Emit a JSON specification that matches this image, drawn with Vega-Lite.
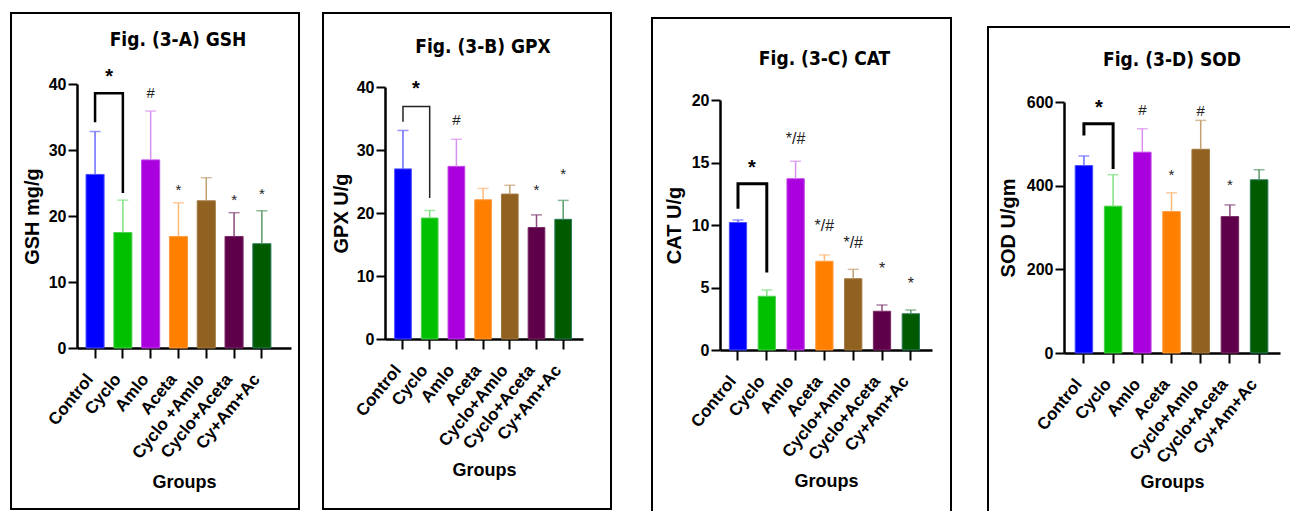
{
  "$schema": "https://vega.github.io/schema/vega-lite/v6.json",
  "padding": {"left": 10, "top": 12, "right": 0, "bottom": 0},
  "background": "white",
  "datasets": {
    "gsh": [
      {"group": "Control", "mean": 26.3, "err": 32.8},
      {"group": "Cyclo", "mean": 17.5, "err": 22.4},
      {"group": "Amlo", "mean": 28.5, "err": 35.9},
      {"group": "Aceta", "mean": 16.9, "err": 22.0},
      {"group": "Cyclo+Amlo", "mean": 22.3, "err": 25.8},
      {"group": "Cyclo+Aceta", "mean": 16.9, "err": 20.5},
      {"group": "Cy+Am+Ac", "mean": 15.8, "err": 20.8}
    ],
    "gpx": [
      {"group": "Control", "mean": 27.0, "err": 33.1},
      {"group": "Cyclo", "mean": 19.2, "err": 20.4},
      {"group": "Amlo", "mean": 27.4, "err": 31.7},
      {"group": "Aceta", "mean": 22.1, "err": 23.9},
      {"group": "Cyclo+Amlo", "mean": 23.0, "err": 24.4},
      {"group": "Cyclo+Aceta", "mean": 17.7, "err": 19.7},
      {"group": "Cy+Am+Ac", "mean": 19.0, "err": 22.0}
    ],
    "cat": [
      {"group": "Control", "mean": 10.2, "err": 10.4},
      {"group": "Cyclo", "mean": 4.3, "err": 4.8},
      {"group": "Amlo", "mean": 13.7, "err": 15.1},
      {"group": "Aceta", "mean": 7.1, "err": 7.6},
      {"group": "Cyclo+Amlo", "mean": 5.7, "err": 6.45},
      {"group": "Cyclo+Aceta", "mean": 3.1, "err": 3.6},
      {"group": "Cy+Am+Ac", "mean": 2.9, "err": 3.2}
    ],
    "sod": [
      {"group": "Control", "mean": 448, "err": 471},
      {"group": "Cyclo", "mean": 351, "err": 426},
      {"group": "Amlo", "mean": 480, "err": 536},
      {"group": "Aceta", "mean": 338, "err": 383},
      {"group": "Cyclo+Amlo", "mean": 487, "err": 556},
      {"group": "Cyclo+Aceta", "mean": 326, "err": 354},
      {"group": "Cy+Am+Ac", "mean": 414, "err": 438}
    ],
    "brkA": [
      {"group": "Control", "y": 34.2, "k": 1},
      {"group": "Control", "y": 38.6, "k": 2},
      {"group": "Cyclo", "y": 38.6, "k": 3},
      {"group": "Cyclo", "y": 23.5, "k": 4}
    ],
    "brkB": [
      {"group": "Control", "y": 34.5, "k": 1},
      {"group": "Control", "y": 36.9, "k": 2},
      {"group": "Cyclo", "y": 36.9, "k": 3},
      {"group": "Cyclo", "y": 22.4, "k": 4}
    ],
    "brkC": [
      {"group": "Control", "y": 11.3, "k": 1},
      {"group": "Control", "y": 13.3, "k": 2},
      {"group": "Cyclo", "y": 13.3, "k": 3},
      {"group": "Cyclo", "y": 6.2, "k": 4}
    ],
    "brkD": [
      {"group": "Control", "y": 520, "k": 1},
      {"group": "Control", "y": 548, "k": 2},
      {"group": "Cyclo", "y": 548, "k": 3},
      {"group": "Cyclo", "y": 440, "k": 4}
    ],
    "annA": [
      {"group": "Control", "y": 41.0, "label": "*", "kind": "bracket"},
      {"group": "Amlo", "y": 38.7, "label": "#", "kind": "bar"},
      {"group": "Aceta", "y": 24.0, "label": "*", "kind": "bar"},
      {"group": "Cyclo+Aceta", "y": 22.5, "label": "*", "kind": "bar"},
      {"group": "Cy+Am+Ac", "y": 23.3, "label": "*", "kind": "bar"}
    ],
    "annB": [
      {"group": "Control", "y": 39.7, "label": "*", "kind": "bracket"},
      {"group": "Amlo", "y": 34.7, "label": "#", "kind": "bar"},
      {"group": "Cyclo+Aceta", "y": 23.7, "label": "*", "kind": "bar"},
      {"group": "Cy+Am+Ac", "y": 26.2, "label": "*", "kind": "bar"}
    ],
    "annC": [
      {"group": "Control", "y": 14.6, "label": "*", "kind": "bracket"},
      {"group": "Amlo", "y": 16.9, "label": "*/#", "kind": "bar"},
      {"group": "Aceta", "y": 9.9, "label": "*/#", "kind": "bar"},
      {"group": "Cyclo+Amlo", "y": 8.6, "label": "*/#", "kind": "bar"},
      {"group": "Cyclo+Aceta", "y": 6.5, "label": "*", "kind": "bar"},
      {"group": "Cy+Am+Ac", "y": 5.3, "label": "*", "kind": "bar"}
    ],
    "annD": [
      {"group": "Control", "y": 586, "label": "*", "kind": "bracket"},
      {"group": "Amlo", "y": 582, "label": "#", "kind": "bar"},
      {"group": "Cyclo+Amlo", "y": 578, "label": "#", "kind": "bar"},
      {"group": "Aceta", "y": 426, "label": "*", "kind": "bar"},
      {"group": "Cyclo+Aceta", "y": 402, "label": "*", "kind": "bar"}
    ],
    "none": []
  },
  "spacing": 39,
  "hconcat": [
    {
      "spacing": 22,
      "hconcat": [
        {
          "width": 288, "height": 496,
          "title": {"text": "Fig. (3-A) GSH", "offset": -46, "dx": 23, "baseline": "middle"},
          "layer": [
            {"data": {"name": "gsh"}, "mark": {"type": "bar", "strokeWidth": 1},
             "encoding": {
               "x": {"field": "group", "type": "nominal", "sort": null,
                     "scale": {"domain": ["Control","Cyclo","Amlo","Aceta","Cyclo+Amlo","Cyclo+Aceta","Cy+Am+Ac"], "range": [66, 280], "paddingInner": 0.35, "paddingOuter": 0.524, "align": 0.31},
                     "axis": {"title": "Groups", "offset": -161, "titleY": 134, "titleBaseline": "middle", "labelExpr": "datum.value == 'Cyclo+Amlo' ? 'Cyclo +Amlo' : datum.value"}},
               "y": {"field": "mean", "type": "quantitative",
                     "scale": {"domain": [0, 40], "range": [335, 71], "nice": false},
                     "axis": {"title": "GSH mg/g", "offset": -66, "values": [0, 10, 20, 30, 40], "titleX": -45, "titleBaseline": "middle"}},
               "fill": {"field": "group", "type": "nominal", "scale": {"domain": ["Control","Cyclo","Amlo","Aceta","Cyclo+Amlo","Cyclo+Aceta","Cy+Am+Ac"], "range": ["#0000ff","#00c000","#aa00dd","#ff8000","#916121","#5e004a","#005a00"]}, "legend": null},
               "stroke": {"field": "group", "type": "nominal", "scale": {"domain": ["Control","Cyclo","Amlo","Aceta","Cyclo+Amlo","Cyclo+Aceta","Cy+Am+Ac"], "range": ["#4d4dff","#4dd04d","#c040e8","#ff9a40","#a07840","#7a2a66","#2a7a5a"]}, "legend": null}
             }},
            {"data": {"name": "gsh"}, "mark": {"type": "rule", "strokeWidth": 1.5},
             "encoding": {
               "x": {"field": "group", "type": "nominal"},
               "y": {"field": "mean", "type": "quantitative"}, "y2": {"field": "err"},
               "color": {"field": "group", "type": "nominal", "scale": {"domain": ["Control","Cyclo","Amlo","Aceta","Cyclo+Amlo","Cyclo+Aceta","Cy+Am+Ac"], "range": ["#6b6bff","#80e080","#d890f0","#ffb878","#c4a070","#8a4a7c","#5a9a6a"]}, "legend": null}
             }},
            {"data": {"name": "gsh"}, "mark": {"type": "tick", "thickness": 1.5, "size": 11},
             "encoding": {
               "x": {"field": "group", "type": "nominal"},
               "y": {"field": "err", "type": "quantitative"},
               "color": {"field": "group", "type": "nominal", "legend": null}
             }},
            {"data": {"name": "brkA"}, "mark": {"type": "line", "color": "black", "strokeWidth": 2.5},
             "encoding": {"x": {"field": "group", "type": "nominal"}, "y": {"field": "y", "type": "quantitative"}, "order": {"field": "k", "type": "quantitative"}}},
            {"data": {"name": "annA"}, "transform": [{"filter": "datum.kind == 'bracket'"}],
             "mark": {"type": "text", "fontSize": 20, "fontWeight": "bold", "dx": 14, "baseline": "middle", "color": "black"},
             "encoding": {"x": {"field": "group", "type": "nominal"}, "y": {"field": "y", "type": "quantitative"}, "text": {"field": "label"}}},
            {"data": {"name": "annA"}, "transform": [{"filter": "datum.kind == 'bar'"}],
             "mark": {"type": "text", "fontSize": 15, "baseline": "middle", "color": "#222"},
             "encoding": {"x": {"field": "group", "type": "nominal"}, "y": {"field": "y", "type": "quantitative"}, "text": {"field": "label"}}}
          ]
        },
        {
          "width": 288, "height": 496,
          "title": {"text": "Fig. (3-B) GPX", "offset": -53, "dx": 16, "baseline": "middle"},
          "layer": [
            {"data": {"name": "gpx"}, "mark": {"type": "bar", "strokeWidth": 1},
             "encoding": {
               "x": {"field": "group", "type": "nominal", "sort": null,
                     "scale": {"domain": ["Control","Cyclo","Amlo","Aceta","Cyclo+Amlo","Cyclo+Aceta","Cy+Am+Ac"], "range": [62, 260], "paddingInner": 0.375, "paddingOuter": 0.395, "align": 0.457},
                     "axis": {"title": "Groups", "offset": -170, "titleY": 131, "titleBaseline": "middle"}},
               "y": {"field": "mean", "type": "quantitative",
                     "scale": {"domain": [0, 40], "range": [326, 74], "nice": false},
                     "axis": {"title": "GPX U/g", "offset": -62, "values": [0, 10, 20, 30, 40], "titleX": -44, "titleBaseline": "middle"}},
               "fill": {"field": "group", "type": "nominal", "scale": {"domain": ["Control","Cyclo","Amlo","Aceta","Cyclo+Amlo","Cyclo+Aceta","Cy+Am+Ac"], "range": ["#0000ff","#00c000","#aa00dd","#ff8000","#916121","#5e004a","#005a00"]}, "legend": null},
               "stroke": {"field": "group", "type": "nominal", "scale": {"domain": ["Control","Cyclo","Amlo","Aceta","Cyclo+Amlo","Cyclo+Aceta","Cy+Am+Ac"], "range": ["#4d4dff","#4dd04d","#c040e8","#ff9a40","#a07840","#7a2a66","#2a7a5a"]}, "legend": null}
             }},
            {"data": {"name": "gpx"}, "mark": {"type": "rule", "strokeWidth": 1.5},
             "encoding": {
               "x": {"field": "group", "type": "nominal"},
               "y": {"field": "mean", "type": "quantitative"}, "y2": {"field": "err"},
               "color": {"field": "group", "type": "nominal", "scale": {"domain": ["Control","Cyclo","Amlo","Aceta","Cyclo+Amlo","Cyclo+Aceta","Cy+Am+Ac"], "range": ["#6b6bff","#80e080","#d890f0","#ffb878","#c4a070","#8a4a7c","#5a9a6a"]}, "legend": null}
             }},
            {"data": {"name": "gpx"}, "mark": {"type": "tick", "thickness": 1.5, "size": 11},
             "encoding": {
               "x": {"field": "group", "type": "nominal"},
               "y": {"field": "err", "type": "quantitative"},
               "color": {"field": "group", "type": "nominal", "legend": null}
             }},
            {"data": {"name": "brkB"}, "mark": {"type": "line", "color": "#222", "strokeWidth": 1.5},
             "encoding": {"x": {"field": "group", "type": "nominal"}, "y": {"field": "y", "type": "quantitative"}, "order": {"field": "k", "type": "quantitative"}}},
            {"data": {"name": "annB"}, "transform": [{"filter": "datum.kind == 'bracket'"}],
             "mark": {"type": "text", "fontSize": 20, "fontWeight": "bold", "dx": 13, "baseline": "middle", "color": "black"},
             "encoding": {"x": {"field": "group", "type": "nominal"}, "y": {"field": "y", "type": "quantitative"}, "text": {"field": "label"}}},
            {"data": {"name": "annB"}, "transform": [{"filter": "datum.kind == 'bar'"}],
             "mark": {"type": "text", "fontSize": 15, "baseline": "middle", "color": "#222"},
             "encoding": {"x": {"field": "group", "type": "nominal"}, "y": {"field": "y", "type": "quantitative"}, "text": {"field": "label"}}}
          ]
        }
      ]
    },
    {
      "spacing": 35,
      "hconcat": [
        {
          "spacing": 3,
          "vconcat": [
            {"width": 1, "height": 1, "data": {"name": "none"}, "mark": "point", "view": {"stroke": null}},
            {
              "width": 299, "height": 496,
              "title": {"text": "Fig. (3-C) CAT", "offset": -60, "dx": 23, "baseline": "middle"},
              "layer": [
                {"data": {"name": "cat"}, "mark": {"type": "bar", "strokeWidth": 1},
                 "encoding": {
                   "x": {"field": "group", "type": "nominal", "sort": null,
                         "scale": {"domain": ["Control","Cyclo","Amlo","Aceta","Cyclo+Amlo","Cyclo+Aceta","Cy+Am+Ac"], "range": [68, 280], "paddingInner": 0.4, "paddingOuter": 0.38, "align": 0.427},
                         "axis": {"title": "Groups", "offset": -164, "titleY": 131, "titleBaseline": "middle"}},
                   "y": {"field": "mean", "type": "quantitative",
                         "scale": {"domain": [0, 20], "range": [332, 82], "nice": false},
                         "axis": {"title": "CAT U/g", "offset": -68, "values": [0, 5, 10, 15, 20], "titleX": -46, "titleBaseline": "middle"}},
                   "fill": {"field": "group", "type": "nominal", "scale": {"domain": ["Control","Cyclo","Amlo","Aceta","Cyclo+Amlo","Cyclo+Aceta","Cy+Am+Ac"], "range": ["#0000ff","#00c000","#aa00dd","#ff8000","#916121","#5e004a","#005a00"]}, "legend": null},
                   "stroke": {"field": "group", "type": "nominal", "scale": {"domain": ["Control","Cyclo","Amlo","Aceta","Cyclo+Amlo","Cyclo+Aceta","Cy+Am+Ac"], "range": ["#4d4dff","#4dd04d","#c040e8","#ff9a40","#a07840","#7a2a66","#2a7a5a"]}, "legend": null}
                 }},
                {"data": {"name": "cat"}, "mark": {"type": "rule", "strokeWidth": 1.5},
                 "encoding": {
                   "x": {"field": "group", "type": "nominal"},
                   "y": {"field": "mean", "type": "quantitative"}, "y2": {"field": "err"},
                   "color": {"field": "group", "type": "nominal", "scale": {"domain": ["Control","Cyclo","Amlo","Aceta","Cyclo+Amlo","Cyclo+Aceta","Cy+Am+Ac"], "range": ["#6b6bff","#80e080","#d890f0","#ffb878","#c4a070","#8a4a7c","#5a9a6a"]}, "legend": null}
                 }},
                {"data": {"name": "cat"}, "mark": {"type": "tick", "thickness": 1.5, "size": 11},
                 "encoding": {
                   "x": {"field": "group", "type": "nominal"},
                   "y": {"field": "err", "type": "quantitative"},
                   "color": {"field": "group", "type": "nominal", "legend": null}
                 }},
                {"data": {"name": "brkC"}, "mark": {"type": "line", "color": "black", "strokeWidth": 3},
                 "encoding": {"x": {"field": "group", "type": "nominal"}, "y": {"field": "y", "type": "quantitative"}, "order": {"field": "k", "type": "quantitative"}}},
                {"data": {"name": "annC"}, "transform": [{"filter": "datum.kind == 'bracket'"}],
                 "mark": {"type": "text", "fontSize": 20, "fontWeight": "bold", "dx": 14, "baseline": "middle", "color": "black"},
                 "encoding": {"x": {"field": "group", "type": "nominal"}, "y": {"field": "y", "type": "quantitative"}, "text": {"field": "label"}}},
                {"data": {"name": "annC"}, "transform": [{"filter": "datum.kind == 'bar'"}],
                 "mark": {"type": "text", "fontSize": 16, "baseline": "middle", "color": "#222"},
                 "encoding": {"x": {"field": "group", "type": "nominal"}, "y": {"field": "y", "type": "quantitative"}, "text": {"field": "label"}}}
              ]
            }
          ]
        },
        {
          "spacing": 12,
          "vconcat": [
            {"width": 1, "height": 1, "data": {"name": "none"}, "mark": "point", "view": {"stroke": null}},
            {
              "width": 310, "height": 496,
              "title": {"text": "Fig. (3-D) SOD", "offset": -52, "dx": 29, "baseline": "middle"},
              "layer": [
                {"data": {"name": "sod"}, "mark": {"type": "bar", "strokeWidth": 1},
                 "encoding": {
                   "x": {"field": "group", "type": "nominal", "sort": null,
                         "scale": {"domain": ["Control","Cyclo","Amlo","Aceta","Cyclo+Amlo","Cyclo+Aceta","Cy+Am+Ac"], "range": [76, 292], "paddingInner": 0.4, "paddingOuter": 0.399, "align": 0.479},
                         "axis": {"title": "Groups", "offset": -170, "titleY": 129, "titleBaseline": "middle"}},
                   "y": {"field": "mean", "type": "quantitative",
                         "scale": {"domain": [0, 600], "range": [326, 75], "nice": false},
                         "axis": {"title": "SOD U/gm", "offset": -76, "values": [0, 200, 400, 600], "titleX": -56, "titleBaseline": "middle"}},
                   "fill": {"field": "group", "type": "nominal", "scale": {"domain": ["Control","Cyclo","Amlo","Aceta","Cyclo+Amlo","Cyclo+Aceta","Cy+Am+Ac"], "range": ["#0000ff","#00c000","#aa00dd","#ff8000","#916121","#5e004a","#005a00"]}, "legend": null},
                   "stroke": {"field": "group", "type": "nominal", "scale": {"domain": ["Control","Cyclo","Amlo","Aceta","Cyclo+Amlo","Cyclo+Aceta","Cy+Am+Ac"], "range": ["#4d4dff","#4dd04d","#c040e8","#ff9a40","#a07840","#7a2a66","#2a7a5a"]}, "legend": null}
                 }},
                {"data": {"name": "sod"}, "mark": {"type": "rule", "strokeWidth": 1.5},
                 "encoding": {
                   "x": {"field": "group", "type": "nominal"},
                   "y": {"field": "mean", "type": "quantitative"}, "y2": {"field": "err"},
                   "color": {"field": "group", "type": "nominal", "scale": {"domain": ["Control","Cyclo","Amlo","Aceta","Cyclo+Amlo","Cyclo+Aceta","Cy+Am+Ac"], "range": ["#6b6bff","#80e080","#d890f0","#ffb878","#c4a070","#8a4a7c","#5a9a6a"]}, "legend": null}
                 }},
                {"data": {"name": "sod"}, "mark": {"type": "tick", "thickness": 1.5, "size": 11},
                 "encoding": {
                   "x": {"field": "group", "type": "nominal"},
                   "y": {"field": "err", "type": "quantitative"},
                   "color": {"field": "group", "type": "nominal", "legend": null}
                 }},
                {"data": {"name": "brkD"}, "mark": {"type": "line", "color": "black", "strokeWidth": 3},
                 "encoding": {"x": {"field": "group", "type": "nominal"}, "y": {"field": "y", "type": "quantitative"}, "order": {"field": "k", "type": "quantitative"}}},
                {"data": {"name": "annD"}, "transform": [{"filter": "datum.kind == 'bracket'"}],
                 "mark": {"type": "text", "fontSize": 20, "fontWeight": "bold", "dx": 15, "baseline": "middle", "color": "black"},
                 "encoding": {"x": {"field": "group", "type": "nominal"}, "y": {"field": "y", "type": "quantitative"}, "text": {"field": "label"}}},
                {"data": {"name": "annD"}, "transform": [{"filter": "datum.kind == 'bar'"}],
                 "mark": {"type": "text", "fontSize": 15, "baseline": "middle", "color": "#222"},
                 "encoding": {"x": {"field": "group", "type": "nominal"}, "y": {"field": "y", "type": "quantitative"}, "text": {"field": "label"}}}
              ]
            }
          ]
        }
      ]
    }
  ],
  "config": {
    "font": "Liberation Sans",
    "view": {"stroke": "black", "strokeWidth": 2},
    "axis": {"domainColor": "black", "domainWidth": 2.5, "tickColor": "black", "tickWidth": 2, "labelColor": "black", "labelFontWeight": "bold", "titleColor": "black", "titleFontWeight": "bold", "grid": false, "labelFont": "Liberation Sans", "titleFont": "Liberation Sans"},
    "axisX": {"labelAngle": -51, "labelFontSize": 17, "tickSize": 10, "titleFontSize": 18, "labelPadding": 18, "labelOffset": -5},
    "axisY": {"labelFontSize": 16, "tickSize": 9, "titleFontSize": 20, "labelPadding": 2},
    "title": {"fontSize": 19, "font": "Liberation Sans Narrow, DejaVu Sans Condensed, Liberation Sans", "fontWeight": "bold", "anchor": "middle", "color": "black"}
  }
}
